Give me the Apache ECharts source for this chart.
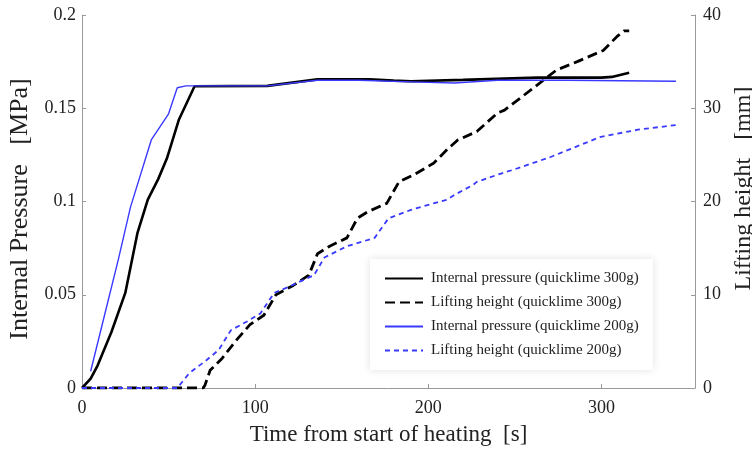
<!DOCTYPE html>
<html>
<head>
<meta charset="utf-8">
<script src="https://cdn.jsdelivr.net/npm/echarts@6/dist/echarts.min.js"></script>
<style>
html,body{margin:0;padding:0;background:#fff;}
#chart{width:752px;height:455px;}
</style>
</head>
<body>
<div id="chart"></div>
<script>
// Internal pressure, quicklime 300g (time s, pressure MPa)
const p300T = [0, 5, 9, 17, 25, 32, 38, 44, 49, 52, 56, 65, 107, 136, 166, 180, 190, 220, 263, 300, 306, 316];
const p300V = [0, 0.005, 0.012, 0.030, 0.051, 0.083, 0.101, 0.112, 0.123, 0.132, 0.144, 0.1618, 0.162, 0.1655, 0.1655, 0.1648, 0.1645, 0.1652, 0.1664, 0.1664, 0.1668, 0.169];
// Lifting height, quicklime 300g (time s, height mm)
const h300T = [0, 70, 71, 74, 81, 89, 97, 105, 112, 122, 131, 136, 143, 153, 159, 165, 176, 183, 192, 203, 211, 217, 228, 240, 244, 263, 274, 286, 301, 309, 313, 316];
const h300V = [0, 0, 0.3, 1.9, 3.2, 5.1, 6.8, 7.8, 10.0, 11.0, 12.1, 14.4, 15.2, 16.1, 18.2, 18.9, 19.8, 22.1, 22.9, 24.1, 25.6, 26.6, 27.5, 29.5, 29.8, 32.5, 34.1, 35.0, 36.2, 37.7, 38.3, 38.3];
// Internal pressure, quicklime 200g
const p200T = [5, 13, 21, 28, 40, 50, 55, 60, 107, 136, 160, 195, 215, 240, 280, 343];
const p200V = [0.009, 0.039, 0.069, 0.097, 0.133, 0.147, 0.161, 0.162, 0.162, 0.165, 0.165, 0.164, 0.1635, 0.165, 0.165, 0.1645];
// Lifting height, quicklime 200g
const h200T = [0, 55, 56, 62, 72, 79, 86, 95, 103, 111, 120, 128, 134, 140, 153, 169, 177, 190, 203, 211, 215, 226, 228, 242, 249, 271, 299, 321, 343];
const h200V = [0, 0, 0.1, 1.6, 3.0, 4.1, 6.2, 7.1, 8.0, 10.2, 10.9, 11.6, 12.1, 14.0, 15.2, 16.1, 18.2, 19.1, 19.8, 20.2, 20.7, 21.8, 22.1, 23.0, 23.4, 24.8, 26.9, 27.7, 28.2];

const seriesNames = [
  'Internal pressure (quicklime 300g)',
  'Lifting height (quicklime 300g)',
  'Internal pressure (quicklime 200g)',
  'Lifting height (quicklime 200g)'
];
const xTicks = [0, 100, 200, 300];

function zip(t, v) { return t.map((x, i) => [x, v[i]]); }

const serif = 'Liberation Serif';
const chart = echarts.init(document.getElementById('chart'), null, {renderer: 'canvas'});
chart.setOption({
  animation: false,
  backgroundColor: '#fff',
  grid: {left: 82, right: 57, top: 15, bottom: 67, containLabel: false, outerBoundsMode: 'none'},
  legend: {
    orient: 'vertical',
    left: 370,
    top: 259,
    padding: [12, 14, 12, 14],
    itemGap: 9,
    itemWidth: 38,
    itemHeight: 14,
    backgroundColor: '#fff',
    shadowColor: 'rgba(0,0,0,0.12)',
    shadowBlur: 8,
    itemStyle: {opacity: 0},
    textStyle: {fontFamily: serif, fontSize: 15, color: '#222', padding: [0, 0, 0, 3]},
    data: seriesNames
  },
  xAxis: {
    type: 'value', min: 0, max: 354, interval: 100,
    name: 'Time from start of heating  [s]',
    nameLocation: 'middle', nameGap: 35,
    nameTextStyle: {fontFamily: serif, fontSize: 23, color: '#222'},
    axisLine: {lineStyle: {color: '#999', width: 1}},
    axisTick: {inside: true, length: 4, lineStyle: {color: '#999'}},
    axisLabel: {fontFamily: serif, fontSize: 18, color: '#222', margin: 11,
      customValues: xTicks, formatter: v => String(v)},
    splitLine: {show: false}
  },
  yAxis: [
    {
      type: 'value', min: 0, max: 0.2, interval: 0.05, position: 'left',
      name: 'Internal Pressure   [MPa]',
      nameLocation: 'middle', nameGap: 46, nameRotate: 90,
      nameTextStyle: {fontFamily: serif, fontSize: 26, color: '#222', padding: [0, 15, 0, 0]},
      axisLine: {show: true, lineStyle: {color: '#999', width: 1}},
      axisTick: {show: true, inside: true, length: 4, lineStyle: {color: '#999'}},
      axisLabel: {fontFamily: serif, fontSize: 18, color: '#222', margin: 6,
        formatter: v => String(Math.round(v * 100) / 100)},
      splitLine: {show: false}
    },
    {
      type: 'value', min: 0, max: 40, interval: 10, position: 'right',
      name: 'Lifting height   [mm]',
      nameLocation: 'middle', nameGap: 32, nameRotate: 90,
      nameTextStyle: {fontFamily: serif, fontSize: 24, color: '#222', padding: [0, 0, 0, 26]},
      axisLine: {show: true, lineStyle: {color: '#999', width: 1}},
      axisTick: {show: true, inside: true, length: 4, lineStyle: {color: '#999'}},
      axisLabel: {fontFamily: serif, fontSize: 18, color: '#222', margin: 8},
      splitLine: {show: false}
    }
  ],
  series: [
    {name: seriesNames[0], type: 'line', yAxisIndex: 0, data: zip(p300T, p300V),
      showSymbol: false, symbol: 'none', color: '#000',
      lineStyle: {color: '#000', width: 2.6}},
    {name: seriesNames[1], type: 'line', yAxisIndex: 1, data: zip(h300T, h300V),
      showSymbol: false, symbol: 'none', color: '#000',
      lineStyle: {color: '#000', width: 2.8, type: [10, 5]}},
    {name: seriesNames[2], type: 'line', yAxisIndex: 0, data: zip(p200T, p200V),
      showSymbol: false, symbol: 'none', color: '#3a3aff',
      lineStyle: {color: '#3a3aff', width: 1.4}},
    {name: seriesNames[3], type: 'line', yAxisIndex: 1, data: zip(h200T, h200V),
      showSymbol: false, symbol: 'none', color: '#3a3aff',
      lineStyle: {color: '#3a3aff', width: 1.8, type: [5, 4]}}
  ]
});
</script>
</body>
</html>
